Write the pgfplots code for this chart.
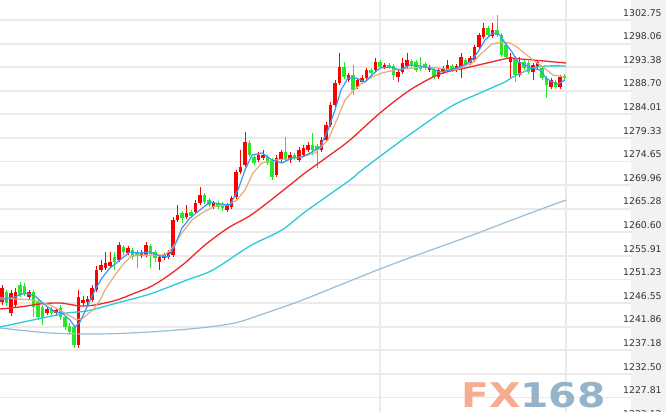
\documentclass[border=0pt]{standalone}
\usepackage{fontspec}
\setmainfont{DejaVu Sans}
\usepackage{graphicx}
\usepackage{pgfplots}
\usepackage{pgfplotstable}
\pgfplotsset{compat=1.18}
\definecolor{cup}{RGB}{255,0,0}
\definecolor{cdn}{RGB}{40,230,40}
\definecolor{maA}{RGB}{51,153,255}
\definecolor{maB}{RGB}{232,170,125}
\definecolor{maC}{RGB}{240,40,40}
\definecolor{maD}{RGB}{40,205,215}
\definecolor{maE}{RGB}{150,190,215}
\definecolor{gridc}{RGB}{234,234,234}
\definecolor{panel}{RGB}{242,242,242}
\definecolor{lbl}{RGB}{51,51,51}
\definecolor{fxo}{RGB}{245,165,135}
\definecolor{fxb}{RGB}{140,174,198}
\pgfplotsset{candle/.style={only marks, mark=*, mark size=0pt, mark options={draw=none, fill=none}, forget plot}}

\pgfplotstableread{
x o h l c
2 1246.77 1250.15 1246.18 1249.55
6.5 1248.76 1249.16 1245.98 1246.57
11 1244.59 1249.16 1244.00 1248.56
15.5 1246.18 1249.55 1245.78 1248.76
20 1250.15 1250.74 1247.77 1248.16
24.5 1249.95 1250.50 1247.96 1248.56
29 1247.77 1249.16 1247.37 1248.76
33.5 1248.76 1249.16 1243.80 1245.78
38 1246.77 1247.37 1243.20 1243.80
42.5 1245.78 1246.18 1242.21 1243.60
47 1244.59 1245.98 1244.20 1245.38
51.5 1245.38 1245.78 1244.20 1244.59
56 1244.59 1245.58 1244.00 1245.19
60.5 1245.58 1246.18 1243.20 1243.80
65 1243.80 1244.20 1241.22 1241.81
69.5 1242.01 1242.61 1240.22 1240.82
74 1241.81 1242.21 1237.64 1238.24
78.5 1238.24 1249.16 1237.64 1247.77
83 1246.57 1247.96 1245.98 1247.17
87.5 1246.77 1247.96 1246.18 1247.37
92 1247.17 1250.15 1246.77 1249.55
96.5 1249.16 1253.92 1248.76 1253.13
101 1253.13 1255.11 1252.73 1254.12
105.5 1253.52 1256.70 1253.13 1254.52
110 1253.92 1256.70 1253.52 1254.71
114.5 1255.71 1256.70 1253.13 1254.71
119 1255.11 1258.68 1254.71 1258.09
123.5 1257.69 1258.09 1256.11 1256.70
128 1256.50 1257.89 1256.11 1257.49
132.5 1257.10 1257.49 1255.11 1255.71
137 1256.70 1257.10 1253.52 1255.91
141.5 1255.91 1257.10 1255.51 1256.50
146 1256.11 1258.68 1255.71 1258.09
150.5 1257.89 1258.30 1253.52 1256.30
155 1256.70 1257.10 1254.71 1255.51
159.5 1254.71 1256.11 1253.13 1255.71
164 1255.51 1256.50 1255.11 1256.11
168.5 1255.71 1257.10 1255.30 1256.70
173 1256.11 1263.65 1255.71 1263.05
177.5 1263.05 1266.03 1262.65 1264.04
182 1264.44 1264.84 1262.45 1263.45
186.5 1263.65 1266.03 1263.25 1264.44
191 1264.64 1265.04 1263.45 1263.84
195.5 1264.64 1267.02 1264.24 1266.42
200 1266.42 1269.60 1266.03 1268.01
204.5 1268.01 1268.40 1266.23 1266.62
209 1267.02 1267.42 1265.63 1266.03
213.5 1265.63 1266.80 1265.24 1266.42
218 1266.42 1266.80 1265.24 1265.63
222.5 1266.23 1266.60 1264.84 1265.43
227 1265.04 1266.42 1264.64 1266.03
231.5 1265.63 1267.80 1265.24 1267.42
236 1267.62 1272.98 1267.20 1272.58
240.5 1272.58 1276.95 1272.20 1273.57
245 1273.97 1280.52 1273.57 1278.53
249.5 1278.33 1278.93 1275.56 1275.95
254 1275.56 1275.95 1273.97 1274.37
258.5 1274.96 1276.55 1274.56 1275.95
263 1275.36 1276.95 1274.96 1275.95
267.5 1275.56 1275.95 1273.97 1274.37
272 1274.96 1275.36 1270.99 1271.59
276.5 1271.98 1275.95 1271.59 1275.36
281 1274.96 1276.95 1274.56 1276.55
285.5 1276.55 1279.50 1274.56 1274.96
290 1274.96 1276.55 1274.37 1275.95
294.5 1275.95 1276.35 1274.96 1275.36
299 1274.96 1277.54 1274.56 1276.95
303.5 1275.95 1277.94 1275.56 1277.34
308 1276.95 1278.53 1276.55 1277.94
312.5 1277.94 1280.32 1275.95 1276.95
317 1277.74 1278.13 1273.37 1276.95
321.5 1276.95 1279.50 1276.55 1278.93
326 1278.93 1282.50 1278.53 1281.91
330.5 1281.91 1286.50 1281.50 1285.88
335 1285.88 1290.84 1285.50 1290.25
339.5 1290.25 1296.20 1289.85 1293.42
344 1293.42 1294.41 1291.04 1291.44
348.5 1290.84 1292.23 1290.44 1291.83
353 1291.83 1293.82 1287.86 1288.85
357.5 1289.45 1291.24 1289.05 1290.84
362 1290.44 1291.83 1290.05 1291.24
366.5 1291.24 1293.22 1290.84 1292.82
371 1292.82 1293.22 1291.83 1292.23
375.5 1292.82 1295.21 1292.43 1294.41
380 1294.41 1294.81 1293.02 1293.42
384.5 1293.42 1294.21 1293.02 1293.82
389 1293.82 1294.21 1293.02 1293.42
393.5 1293.62 1294.02 1290.84 1291.83
398 1291.44 1292.82 1290.44 1292.43
402.5 1292.43 1295.21 1292.03 1294.21
407 1293.62 1296.20 1293.22 1294.81
411.5 1294.61 1295.00 1293.42 1293.82
416 1294.41 1294.81 1292.43 1292.82
420.5 1293.62 1295.41 1292.63 1293.02
425 1294.02 1294.41 1292.82 1293.22
429.5 1292.82 1293.82 1292.43 1293.42
434 1292.82 1293.22 1291.04 1291.44
438.5 1291.44 1293.22 1291.04 1292.82
443 1292.43 1293.62 1292.03 1293.22
447.5 1292.82 1294.81 1292.43 1293.82
452 1293.62 1294.02 1292.43 1292.82
456.5 1292.82 1294.02 1292.43 1293.62
461 1293.42 1296.20 1291.24 1295.41
465.5 1294.81 1295.21 1293.62 1294.02
470 1294.21 1295.60 1293.82 1295.21
474.5 1294.81 1297.79 1294.41 1297.39
479 1297.39 1300.17 1297.00 1299.77
483.5 1299.38 1302.15 1298.98 1301.16
488 1301.16 1301.56 1299.38 1299.77
492.5 1299.57 1302.15 1299.18 1300.77
497 1300.77 1303.74 1299.38 1299.77
501.5 1299.77 1300.17 1295.41 1295.80
506 1297.79 1298.20 1295.00 1295.41
510.5 1294.41 1296.20 1291.24 1295.41
515 1295.21 1295.60 1290.44 1291.83
519.5 1291.83 1295.41 1291.44 1294.41
524 1294.41 1294.81 1292.82 1293.22
528.5 1294.21 1294.61 1292.03 1292.43
533 1292.43 1294.21 1290.84 1293.82
537.5 1293.42 1294.81 1293.02 1294.41
542 1293.22 1293.62 1290.84 1291.24
546.5 1291.24 1291.60 1287.27 1289.85
551 1289.45 1291.24 1289.05 1290.84
555.5 1290.44 1290.84 1289.05 1289.45
560 1289.45 1291.83 1289.05 1291.44
564.5 1291.63 1292.03 1290.84 1291.24
}\candles

\begin{document}
\begin{tikzpicture}
\useasboundingbox (0,0) rectangle (666bp,412bp);
\fill[white] (0,0) rectangle (666bp,412bp);
\fill[panel] (631bp,0) rectangle (666bp,412bp);
\begin{axis}[
  at={(0,0)}, anchor=south west,
  scale only axis, width=631bp, height=412bp,
  xmin=0, xmax=631, ymin=1224.93, ymax=1306.72,
  axis line style={draw=none},
  major tick length=0pt,
  xtick={380,566}, xticklabels={}, xmajorgrids,
  ytick={1302.75,1298.06,1293.38,1288.70,1284.01,1279.33,1274.65,1269.96,1265.28,1260.60,1255.91,1251.23,1246.55,1241.86,1237.18,1232.50,1227.81},
  yticklabels={1302.75,1298.06,1293.38,1288.70,1284.01,1279.33,1274.65,1269.96,1265.28,1260.60,1255.91,1251.23,1246.55,1241.86,1237.18,1232.50,1227.81},
  ymajorgrids,
  grid style={gridc, line width=1.8bp},
  yticklabel pos=right,
  yticklabel style={anchor=base west, inner sep=0pt, xshift=-8bp, yshift=3.8bp, font=\fontsize{9.3bp}{11bp}\selectfont, text=lbl},
]
% wicks
\addplot[candle,
  restrict expr to domain={\thisrow{c}-\thisrow{o}}{0:1000},
  error bars/.cd, y dir=both, y explicit, error mark=none,
  error bar style={draw=cup, line width=1bp}]
  table[x=x, y expr={(\thisrow{h}+\thisrow{l})/2}, y error expr={(\thisrow{h}-\thisrow{l})/2}] {\candles};
\addplot[candle,
  restrict expr to domain={\thisrow{c}-\thisrow{o}}{-1000:-0.001},
  error bars/.cd, y dir=both, y explicit, error mark=none,
  error bar style={draw=cdn, line width=1bp}]
  table[x=x, y expr={(\thisrow{h}+\thisrow{l})/2}, y error expr={(\thisrow{h}-\thisrow{l})/2}] {\candles};
% bodies
\addplot[candle,
  restrict expr to domain={\thisrow{c}-\thisrow{o}}{0:1000},
  error bars/.cd, y dir=both, y explicit, error mark=none,
  error bar style={draw=cup, line width=3.9bp}]
  table[x=x, y expr={(\thisrow{o}+\thisrow{c})/2}, y error expr={abs(\thisrow{c}-\thisrow{o})/2}] {\candles};
\addplot[candle,
  restrict expr to domain={\thisrow{c}-\thisrow{o}}{-1000:-0.001},
  error bars/.cd, y dir=both, y explicit, error mark=none,
  error bar style={draw=cdn, line width=3.9bp}]
  table[x=x, y expr={(\thisrow{o}+\thisrow{c})/2}, y error expr={abs(\thisrow{c}-\thisrow{o})/2}] {\candles};
% long MA
\addplot[maE, line width=1.2bp, no marks, smooth] coordinates {
(0,1241.61) (50,1240.62) (100,1240.42) (150,1240.82) (200,1241.61) (235,1242.61) (260,1244.19) (300,1246.97) (340,1250.15) (380,1253.32) (420,1256.30) (470,1259.87) (520,1263.65) (566,1267.02)};
% MA60
\addplot[maD, line width=1.3bp, no marks, smooth] coordinates {
(0,1241.81) (33,1243.20) (67,1244.59) (87,1244.99) (117,1246.57) (150,1248.36) (187,1251.14) (213,1253.13) (250,1257.89) (282,1261.07) (305,1264.64) (350,1270.99) (362,1272.98) (405,1279.33) (450,1285.48) (480,1288.26) (505,1290.44) (513,1291.44) (533,1293.22) (547,1293.62) (566,1293.62)};
% MA20
\addplot[maC, line width=1.3bp, no marks, smooth] coordinates {
(0,1245.38) (20,1245.78) (40,1246.38) (60,1246.57) (80,1245.98) (95,1246.18) (117,1247.17) (135,1248.56) (150,1249.75) (165,1251.54) (185,1254.52) (205,1258.09) (228,1261.46) (248,1263.65) (262,1265.63) (290,1270.00) (305,1272.38) (330,1275.95) (350,1278.93) (380,1284.29) (410,1288.85) (440,1292.03) (470,1293.42) (500,1294.81) (510,1295.21) (520,1295.01) (533,1294.81) (566,1294.21)};
% MA10
\addplot[maB, line width=1.2bp, no marks] coordinates {
(0,1247.57) (32,1247.17) (50,1246.18) (63,1244.79) (77,1243.20) (83,1243.60) (93,1245.19) (100,1247.17) (105,1249.16) (115,1252.13) (125,1254.71) (132,1255.91) (142,1256.11) (155,1256.11) (165,1256.11) (172,1257.49) (182,1260.47) (192,1263.05) (202,1264.44) (215,1265.83) (228,1266.03) (237,1267.02) (245,1269.01) (253,1272.38) (262,1274.37) (275,1274.96) (288,1275.16) (302,1275.56) (315,1276.35) (328,1278.93) (338,1283.50) (345,1286.87) (352,1288.46) (362,1290.25) (372,1291.44) (382,1292.23) (395,1292.82) (422,1293.42) (438,1293.22) (455,1292.82) (472,1294.21) (482,1296.20) (492,1297.99) (502,1298.38) (510,1298.19) (517,1297.39) (523,1296.40) (533,1294.81) (543,1293.42) (553,1291.83) (565,1291.44)};
% MA5
\addplot[maA, line width=1.2bp, no marks] coordinates {
(0,1247.17) (15,1247.77) (25,1248.56) (35,1247.96) (45,1246.18) (55,1244.79) (62,1244.59) (70,1243.20) (75,1241.81) (80,1242.80) (88,1246.18) (95,1249.16) (102,1251.54) (110,1253.52) (120,1255.11) (130,1256.70) (140,1256.50) (150,1256.70) (160,1255.91) (168,1255.71) (175,1258.09) (182,1261.46) (190,1263.45) (200,1265.04) (210,1266.62) (220,1266.23) (230,1266.03) (238,1269.01) (245,1272.98) (252,1275.95) (262,1276.35) (272,1274.96) (282,1274.37) (292,1275.36) (302,1275.56) (312,1276.55) (320,1277.54) (328,1280.92) (335,1284.89) (341,1288.85) (348,1291.24) (356,1291.24) (365,1290.44) (372,1291.83) (380,1293.22) (390,1293.42) (400,1292.82) (410,1293.82) (420,1293.62) (430,1293.22) (440,1292.43) (450,1292.82) (460,1293.42) (470,1294.41) (478,1296.40) (485,1298.78) (493,1300.17) (500,1299.77) (505,1298.19) (512,1296.40) (518,1294.41) (525,1293.82) (532,1293.22) (540,1292.82) (546,1291.24) (552,1290.44) (558,1290.05) (565,1290.84)};
\end{axis}
\node[anchor=base west, inner sep=0pt, text=lbl] at (623bp,-5.8bp) {\fontsize{9.3bp}{11bp}\selectfont 1223.12};
\node[anchor=base west, inner sep=0pt, opacity=0.92] at (461bp,5bp) {\scalebox{1.2}[1]{\fontsize{34bp}{34bp}\selectfont\bfseries\textcolor{fxo}{FX}\textcolor{fxb}{168}}};
\end{tikzpicture}
\end{document}
